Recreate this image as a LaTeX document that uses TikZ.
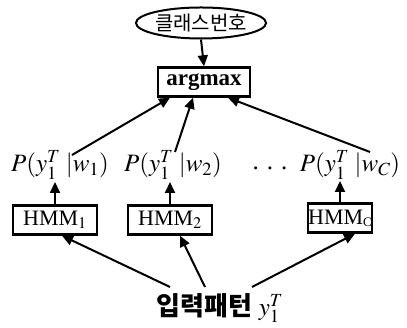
\documentclass[tikz,border=0pt]{standalone}
\usepackage{mathptmx}
\usepackage{fontspec}
\setmainfont{Liberation Serif}
\newfontfamily\kr{Noto Sans CJK KR}
\usetikzlibrary{shapes.geometric,arrows.meta,calc}
\begin{document}
\begin{tikzpicture}[x=1pt,y=1pt,
  arr/.style={line width=2pt,-{Triangle[length=11pt,width=10pt]}},
  boxnode/.style={draw,line width=2.4pt,rectangle,inner sep=0pt,minimum height=29pt},
  mlabel/.style={inner sep=0pt,font=\fontsize{25}{28}\selectfont}]
\useasboundingbox (0,0) rectangle (407,328);
\node[draw,ellipse,line width=2pt,inner sep=0pt,minimum width=116pt,minimum height=31pt,font=\kr\fontsize{20}{22}\selectfont] (cls) at (201,305) {클래스번호};
\node[boxnode,minimum width=92pt,font=\bfseries\fontsize{23}{26}\selectfont] (am) at (204,246) {argmax};
\node[mlabel] (p1) at (60,163) {$P(y_1^T\;|w_1)$};
\node[mlabel] (p2) at (173,163) {$P(y_1^T\;|w_2)$};
\node[mlabel] (dots) at (270,160) {.\hspace{8pt}.\hspace{8pt}.};
\node[mlabel] (pc) at (350,163) {$P(y_1^T\;|w_C)$};
\node[boxnode,minimum width=84pt,font=\fontsize{22}{24}\selectfont] (h1) at (55,108) {HMM$_{\mathrm{1}}$};
\node[boxnode,minimum width=84pt,font=\fontsize{22}{24}\selectfont] (h2) at (170,108) {HMM$_{\mathrm{2}}$};
\node[boxnode,minimum width=58pt,font=\fontsize{22}{24}\selectfont] (hc) at (340,110) {HMM\raisebox{-2pt}{\fontsize{13}{14}\selectfont C}};
\node[inner sep=0pt,font=\fontsize{25}{28}\selectfont] (inp) at (220,20) {{\kr\bfseries\fontsize{26}{28}\selectfont 입력패턴} $y_1^T$};
\draw[arr] (cls.south) -- (am.north);
\draw[arr] (72,173) -- ([xshift=-34pt]am.south);
\draw[arr] (175,176) -- ([xshift=-11pt]am.south);
\draw[arr] (370,176) -- ([xshift=24pt]am.south);
\draw[arr] (h1.north) -- (55,146);
\draw[arr] (h2.north) -- (170,146);
\draw[arr] (hc.north) -- (340,147);
\draw[arr] (170,41) -- ([xshift=7pt]h1.south);
\draw[arr] (205,41) -- ([xshift=10pt]h2.south);
\draw[arr] (252,41) -- ([xshift=15pt]hc.south);
\end{tikzpicture}
\end{document}
